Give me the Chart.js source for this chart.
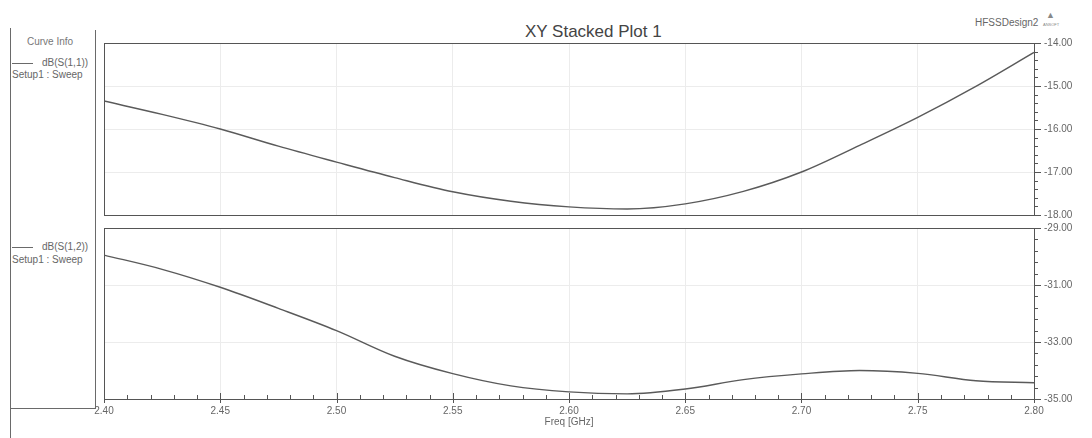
<!DOCTYPE html>
<html>
<head>
<meta charset="utf-8">
<script src="https://cdn.jsdelivr.net/npm/chart.js@4.4.1/dist/chart.umd.min.js"></script>
<style>
  body { margin: 0; background: #fff; width: 1092px; height: 438px; overflow: hidden;
         font-family: 'Liberation Sans', Arial, sans-serif; color: #5a5a5a; }
  canvas { position: absolute; left: 0; top: 0; }
  .txt { position: absolute; white-space: nowrap; line-height: 1; }
  .ln { position: absolute; background: #6a6a6a; }
</style>
</head>
<body>
<div class="txt" style="left:525px;top:23px;font-size:17px;color:#444;">XY Stacked Plot 1</div>
<div class="txt" style="left:975px;top:18px;font-size:10px;color:#666;">HFSSDesign2</div>
<div class="txt" style="left:1046px;top:11px;font-size:9px;color:#888;">&#9650;</div>
<div class="txt" style="left:1043px;top:23px;font-size:4px;color:#888;">ANSOFT</div>

<!-- curve info box -->
<div class="ln" style="left:10px;top:28px;width:1px;height:410px;"></div>
<div class="ln" style="left:95px;top:30px;width:1px;height:379px;"></div>
<div class="ln" style="left:10px;top:408px;width:86px;height:1px;"></div>
<div class="txt" style="left:27px;top:37px;font-size:10px;color:#777;">Curve Info</div>
<div class="ln" style="left:12px;top:63px;width:21px;height:1px;"></div>
<div class="txt" style="left:42px;top:58px;font-size:10px;color:#666;">dB(S(1,1))</div>
<div class="txt" style="left:12px;top:70px;font-size:10px;color:#666;">Setup1 : Sweep</div>
<div class="ln" style="left:12px;top:247px;width:21px;height:1px;"></div>
<div class="txt" style="left:42px;top:242px;font-size:10px;color:#666;">dB(S(1,2))</div>
<div class="txt" style="left:12px;top:255px;font-size:10px;color:#666;">Setup1 : Sweep</div>

<canvas id="bottomChart" width="1092" height="438"></canvas>
<canvas id="topChart" width="1092" height="438"></canvas>

<script>
// frequency sweep (GHz)
const freqs = [2.400, 2.425, 2.450, 2.475, 2.500, 2.525, 2.550, 2.575, 2.600,
               2.625, 2.650, 2.675, 2.700, 2.725, 2.750, 2.775, 2.800];
// dB(S(1,1))
const s11 = [-15.35, -15.66, -16.00, -16.40, -16.77, -17.13, -17.46, -17.68, -17.81,
             -17.86, -17.74, -17.45, -17.00, -16.38, -15.73, -15.01, -14.22];
// dB(S(1,2))
const s12 = [-29.95, -30.45, -31.08, -31.82, -32.60, -33.50, -34.11, -34.54, -34.75,
             -34.82, -34.65, -34.32, -34.12, -34.00, -34.10, -34.36, -34.43];

const xTickLabels = ['2.40', '2.45', '2.50', '2.55', '2.60', '2.65', '2.70', '2.75', '2.80'];
const topTickLabels = ['-18.00', '-17.00', '-16.00', '-15.00', '-14.00'];
const bottomTickLabels = ['-35.00', '-33.00', '-31.00', '-29.00'];

const FONT = 'Liberation Sans, Arial, sans-serif';
const LINE = '#5a5a5a';
const GRID = '#ececec';

// draws the box around the plot area and the minor/major tick marks
const frame = {
  id: 'frame',
  afterDraw(chart, args, opts) {
    const { ctx, chartArea: a } = chart;
    const ys = chart.scales.y, xs = chart.scales.x;
    ctx.save();
    ctx.strokeStyle = '#555';
    ctx.lineWidth = 1;
    ctx.strokeRect(Math.round(a.left) + 0.5, Math.round(a.top) + 0.5,
                   Math.round(a.right - a.left), Math.round(a.bottom - a.top));

    let n = Math.round((ys.max - ys.min) / opts.yMinor);
    for (let i = 0; i <= n; i++) {
      const v = ys.min + i * opts.yMinor;
      const y = Math.round(ys.getPixelForValue(v)) + 0.5;
      const major = i % opts.yEvery === 0;
      ctx.beginPath();
      ctx.moveTo(a.right, y);
      ctx.lineTo(a.right + (major ? 7 : 4), y);
      ctx.stroke();
    }

    if (opts.xTicks) {
      n = Math.round((xs.max - xs.min) / 0.01);
      for (let i = 0; i <= n; i++) {
        const x = Math.round(xs.getPixelForValue(xs.min + i * 0.01)) + 0.5;
        const major = i % 5 === 0;
        ctx.beginPath();
        ctx.moveTo(x, a.bottom - (major ? 6 : 4));
        ctx.lineTo(x, a.bottom + (major ? 4 : 0));
        ctx.stroke();
      }
    }
    ctx.restore();
  }
};

function xScale(showLabels) {
  return {
    type: 'linear',
    min: 2.4,
    max: 2.8,
    afterBuildTicks: s => { s.ticks = xTickLabels.map(t => ({ value: parseFloat(t) })); },
    afterFit: s => { s.height = showLabels ? 39 : 0; },
    ticks: {
      display: showLabels,
      padding: 6,
      color: '#666',
      font: { family: FONT, size: 10 },
      maxRotation: 0,
      callback: (v, i) => xTickLabels[i]
    },
    grid: {
      drawTicks: false,
      color: c => (c.index === 0 || c.index === xTickLabels.length - 1) ? 'rgba(0,0,0,0)' : GRID
    },
    border: { display: false },
    title: {
      display: showLabels,
      text: 'Freq [GHz]',
      color: '#666',
      font: { family: FONT, size: 10 },
      padding: { top: 0, bottom: 10 }
    }
  };
}

function yScale(labels) {
  return {
    type: 'linear',
    position: 'right',
    min: parseFloat(labels[0]),
    max: parseFloat(labels[labels.length - 1]),
    afterBuildTicks: s => { s.ticks = labels.map(t => ({ value: parseFloat(t) })); },
    afterFit: s => { s.width = 58; },
    ticks: {
      padding: 10,
      color: '#666',
      font: { family: FONT, size: 10 },
      callback: (v, i) => labels[i]
    },
    grid: {
      drawTicks: false,
      color: c => (c.index === 0 || c.index === labels.length - 1) ? 'rgba(0,0,0,0)' : GRID
    },
    border: { display: false }
  };
}

function makeChart(id, values, labels, showX, padTop, padBottom, minor, every) {
  return new Chart(document.getElementById(id), {
    type: 'line',
    data: {
      datasets: [{
        data: freqs.map((f, i) => ({ x: f, y: values[i] })),
        borderColor: LINE,
        borderWidth: 1.4,
        pointRadius: 0,
        cubicInterpolationMode: 'monotone',
        fill: false
      }]
    },
    options: {
      responsive: false,
      animation: false,
      devicePixelRatio: 1,
      layout: { padding: { left: 104, right: 0, top: padTop, bottom: padBottom } },
      plugins: {
        legend: { display: false },
        tooltip: { enabled: false },
        frame: { yMinor: minor, yEvery: every, xTicks: showX }
      },
      scales: { x: xScale(showX), y: yScale(labels) }
    },
    plugins: [frame]
  });
}

makeChart('topChart', s11, topTickLabels, false, 43, 223, 0.2, 5);
makeChart('bottomChart', s12, bottomTickLabels, true, 228, 0, 0.4, 5);
</script>
</body>
</html>
